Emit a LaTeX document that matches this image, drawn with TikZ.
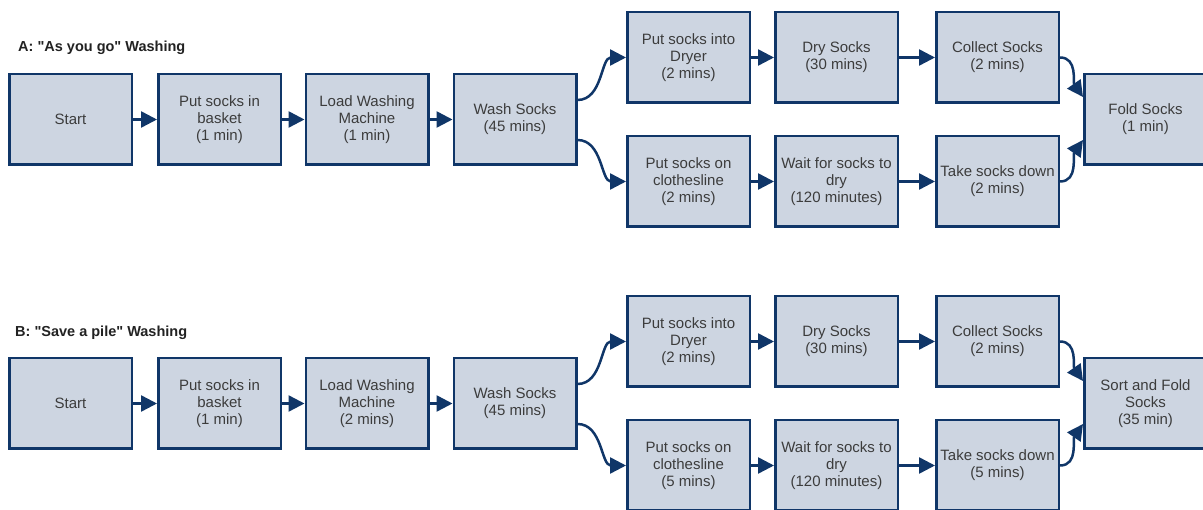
\documentclass[tikz,border=0pt]{standalone}
\usepackage{fontspec}
\setmainfont{Liberation Sans}
\usetikzlibrary{arrows.meta}
\definecolor{navy}{HTML}{103668}
\definecolor{boxfill}{HTML}{CDD5E1}
\definecolor{txt}{HTML}{3C3C3C}
\definecolor{ttl}{HTML}{222222}
\begin{document}
\begin{tikzpicture}[x=1pt,y=-1pt,
  box/.style={draw=navy, line width=2.5pt, fill=boxfill, minimum width=122.5pt, minimum height=90.5pt,
    inner sep=1pt, align=center, font=\fontsize{15}{17}\selectfont, text=txt},
  arr/.style={draw=navy, line width=2.5pt, -{Triangle[length=16pt,width=16pt]}},
  ttlstyle/.style={anchor=west, inner sep=0pt, font=\fontsize{14.5}{17}\selectfont\bfseries, text=ttl}]
\useasboundingbox (0,0) rectangle (1203,510);
\fill[white] (0,0) rectangle (1203,510);
% Row A
\node[ttlstyle] (ta) at (18,47.5) {A: \textquotedbl As you go\textquotedbl{} Washing};
\node[box] (a1) at (70.5,119.5) {Start};
\node[box] (a2) at (219.5,119.5) {Put socks in\\basket\\(1 min)};
\node[box] (a3) at (367,119.5) {Load Washing\\Machine\\(1 min)};
\node[box] (a4) at (515,119.5) {Wash Socks\\(45 mins)};
\node[box] (a5) at (688.5,57.5) {Put socks into\\Dryer\\(2 mins)};
\node[box] (a6) at (836.5,57.5) {Dry Socks\\(30 mins)};
\node[box] (a7) at (997.5,57.5) {Collect Socks\\(2 mins)};
\node[box] (a9) at (688.5,181.5) {Put socks on\\clothesline\\(2 mins)};
\node[box] (a10) at (836.5,181.5) {Wait for socks to\\dry\\(120 minutes)};
\node[box] (a11) at (997.5,181.5) {Take socks down\\(2 mins)};
\node[box] (a8) at (1145.5,119.5) {Fold Socks\\(1 min)};
\draw[arr] (a1) -- (a2);
\draw[arr] (a2) -- (a3);
\draw[arr] (a3) -- (a4);
\draw[arr] ([yshift=19.5pt]a4.east) to[out=0,in=180] (a5.west);
\draw[arr] ([yshift=-20.5pt]a4.east) to[out=0,in=180] (a9.west);
\draw[arr] (a5) -- (a6);
\draw[arr] (a6) -- (a7);
\draw[arr] (a9) -- (a10);
\draw[arr] (a10) -- (a11);
\draw[arr] (a7.east) to[out=0,in=125] ([yshift=22.5pt]a8.west);
\draw[arr] (a11.east) to[out=0,in=235] ([yshift=-20.5pt]a8.west);
% Row B
\node[ttlstyle] (tb) at (15,333) {B: \textquotedbl Save a pile\textquotedbl{} Washing};
\node[box] (b1) at (70.5,403.5) {Start};
\node[box] (b2) at (219.5,403.5) {Put socks in\\basket\\(1 min)};
\node[box] (b3) at (367,403.5) {Load Washing\\Machine\\(2 mins)};
\node[box] (b4) at (515,403.5) {Wash Socks\\(45 mins)};
\node[box] (b5) at (688.5,341.5) {Put socks into\\Dryer\\(2 mins)};
\node[box] (b6) at (836.5,341.5) {Dry Socks\\(30 mins)};
\node[box] (b7) at (997.5,341.5) {Collect Socks\\(2 mins)};
\node[box] (b9) at (688.5,465.5) {Put socks on\\clothesline\\(5 mins)};
\node[box] (b10) at (836.5,465.5) {Wait for socks to\\dry\\(120 minutes)};
\node[box] (b11) at (997.5,465.5) {Take socks down\\(5 mins)};
\node[box] (b8) at (1145.5,403.5) {Sort and Fold\\Socks\\(35 min)};
\draw[arr] (b1) -- (b2);
\draw[arr] (b2) -- (b3);
\draw[arr] (b3) -- (b4);
\draw[arr] ([yshift=19.5pt]b4.east) to[out=0,in=180] (b5.west);
\draw[arr] ([yshift=-20.5pt]b4.east) to[out=0,in=180] (b9.west);
\draw[arr] (b5) -- (b6);
\draw[arr] (b6) -- (b7);
\draw[arr] (b9) -- (b10);
\draw[arr] (b10) -- (b11);
\draw[arr] (b7.east) to[out=0,in=125] ([yshift=22.5pt]b8.west);
\draw[arr] (b11.east) to[out=0,in=235] ([yshift=-20.5pt]b8.west);
\end{tikzpicture}
\end{document}
